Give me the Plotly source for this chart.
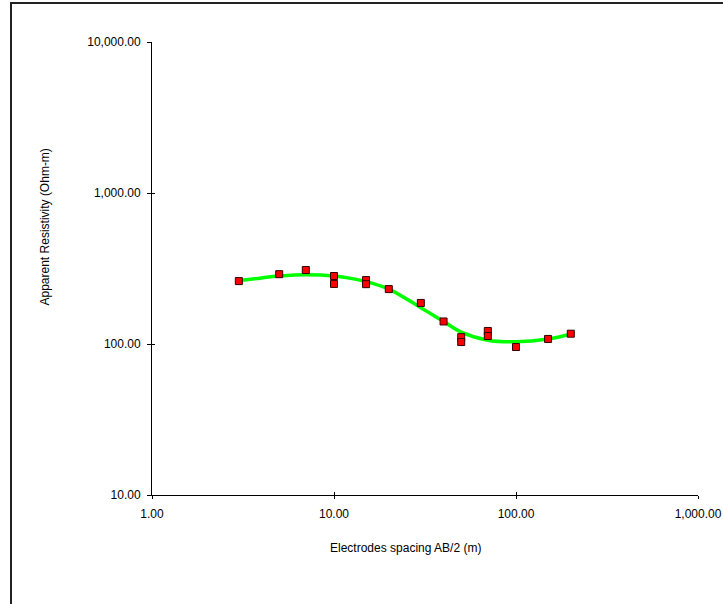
import plotly.graph_objects as go

# Measured data (AB/2 in m, apparent resistivity in Ohm-m)
spacing = [3, 5, 7, 10, 10, 15, 15, 20, 30, 40, 50, 50, 70, 70, 100, 150, 200]
resistivity = [261, 290, 309, 282, 250, 265, 249, 231, 187, 141, 111, 103, 122, 113, 95.5, 108, 117]

# Model curve
curve_x = [3, 4, 5, 7, 10, 15, 20, 30, 40, 50, 70, 100, 150, 200]
curve_y = [262, 274, 282, 288, 282, 259, 231, 174, 141, 120, 106, 103.6, 108, 116]

x_tickvals = [1, 10, 100, 1000]
x_ticktext = ["1.00", "10.00", "100.00", "1,000.00"]
y_tickvals = [10, 100, 1000, 10000]
y_ticktext = ["10.00", "100.00", "1,000.00", "10,000.00"]

x_title = "Electrodes spacing AB/2 (m)"
y_title = "Apparent Resistivity (Ohm-m)"

font = dict(family="Liberation Sans, Arial, sans-serif", size=12, color="#000000")

fig = go.Figure()
fig.add_trace(go.Scatter(x=curve_x, y=curve_y, mode="lines",
                         line=dict(color="#00FF00", width=3.5, shape="spline", smoothing=1.0),
                         hoverinfo="skip", showlegend=False))
fig.add_trace(go.Scatter(x=spacing, y=resistivity, mode="markers",
                         marker=dict(symbol="square", size=7, color="#FF0000",
                                     line=dict(color="#330000", width=1)),
                         showlegend=False))
# dummy trace for overlay axes (inside ticks)
fig.add_trace(go.Scatter(x=[], y=[], xaxis="x2", yaxis="y2", showlegend=False, hoverinfo="skip"))

fig.update_layout(
    width=723, height=604,
    margin=dict(l=152, r=25, t=42, b=109, autoexpand=False),
    paper_bgcolor="white", plot_bgcolor="white",
    font=font,
    xaxis=dict(type="log", range=[0, 3], tickvals=x_tickvals, ticktext=x_ticktext,
               automargin=False,
               showgrid=False, zeroline=False, showline=True, linecolor="#000000", linewidth=1,
               ticks="outside", ticklen=3, tickcolor="#000000", tickfont=font,
               ticklabelstandoff=5),
    yaxis=dict(type="log", range=[1, 4], tickvals=y_tickvals, ticktext=y_ticktext,
               automargin=False,
               showgrid=False, zeroline=False, showline=True, linecolor="#000000", linewidth=1,
               ticks="outside", ticklen=4, tickcolor="#000000", tickfont=font,
               ticklabelstandoff=4),
    xaxis2=dict(type="log", range=[0, 3], overlaying="x", anchor="y2", tickvals=x_tickvals,
                automargin=False,
                showticklabels=False, showgrid=False, zeroline=False, showline=False,
                ticks="inside", ticklen=3, tickcolor="#000000"),
    yaxis2=dict(type="log", range=[1, 4], overlaying="y", anchor="x2", side="left", tickvals=y_tickvals,
                automargin=False,
                showticklabels=False, showgrid=False, zeroline=False, showline=False,
                ticks="inside", ticklen=3, tickcolor="#000000"),
    annotations=[
        dict(text=x_title, xref="paper", yref="paper", x=(405.5 - 152) / 546, y=(495 - 548) / 453,
             xanchor="center", yanchor="middle", showarrow=False, font=font),
        dict(text=y_title, xref="paper", yref="paper", x=(44 - 152) / 546, y=(495 - 227.5) / 453,
             xanchor="center", yanchor="middle", textangle=-90, showarrow=False, font=font),
    ],
    shapes=[dict(type="rect", xref="paper", yref="paper",
                 x0=(11 - 152) / 546, x1=1.2, y0=-0.4, y1=(495 - 3) / 453,
                 line=dict(color="#222222", width=2), fillcolor="rgba(0,0,0,0)", layer="below")],
)

fig.write_html("out.html", config={"displayModeBar": False},
               post_script="document.body.style.margin='0';document.body.style.overflow='hidden';")
